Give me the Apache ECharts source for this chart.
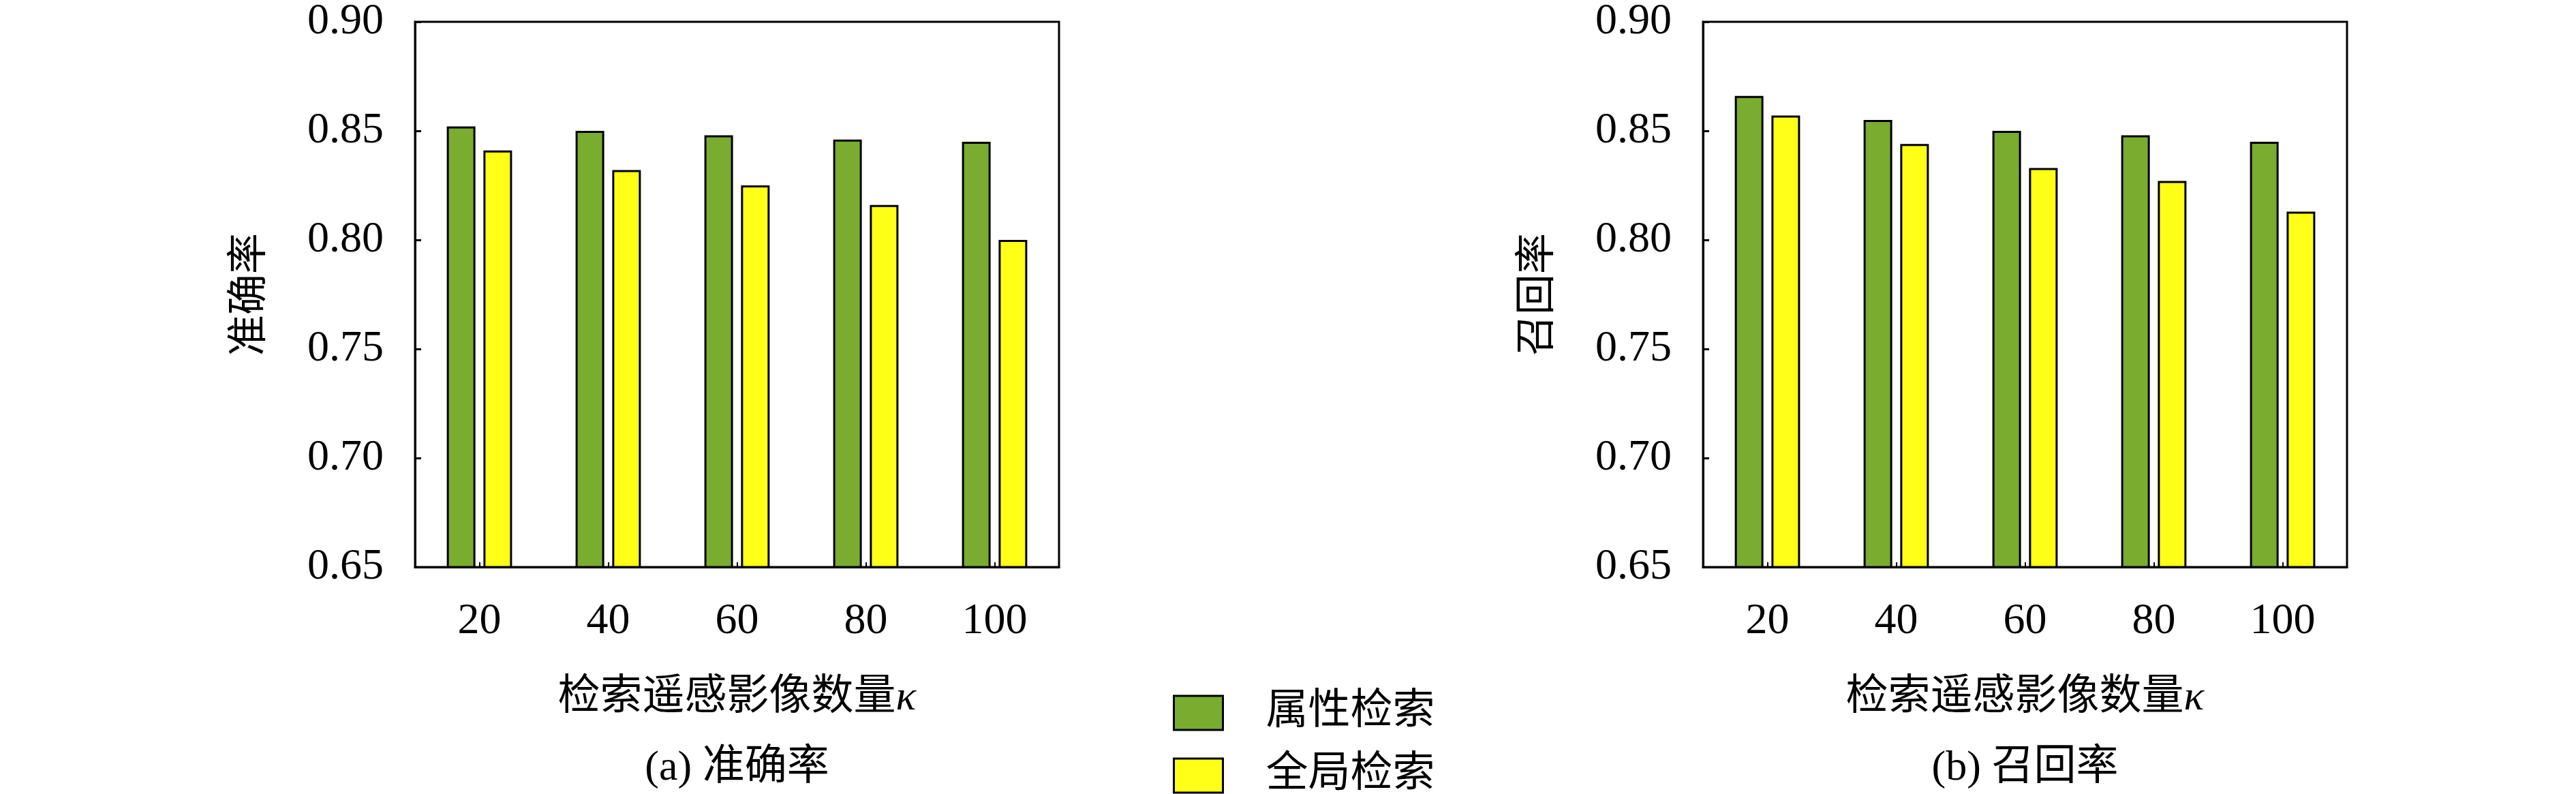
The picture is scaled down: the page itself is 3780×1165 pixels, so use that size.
<!DOCTYPE html>
<html>
<head>
<meta charset="utf-8">
<script src="https://cdn.jsdelivr.net/npm/echarts@6/dist/echarts.min.js"></script>
<style>
html,body{margin:0;padding:0;background:#fff;}
#chart{width:3780px;height:1165px;}
</style>
</head>
<body>
<div id="chart"></div>
<script>
var categories = ['20', '40', '60', '80', '100'];
var seriesNames = ['属性检索', '全局检索'];
var precisionAttr = [0.852, 0.850, 0.848, 0.846, 0.845];
var precisionGlobal = [0.841, 0.832, 0.825, 0.816, 0.800];
var recallAttr = [0.866, 0.855, 0.850, 0.848, 0.845];
var recallGlobal = [0.857, 0.844, 0.833, 0.827, 0.813];
var yTicks = { min: 0.65, max: 0.90, interval: 0.05 };
var yNames = ['准确率', '召回率'];
var xName = '检索遥感影像数量{k|κ}';
var captions = ['(a) 准确率', '(b) 召回率'];

var FONT = "'Liberation Serif', 'Noto Sans CJK SC', serif";
var GREEN = '#79AC2F';
var YELLOW = '#FFFF17';

var chart = echarts.init(document.getElementById('chart'), null, { renderer: 'canvas' });

var gridLefts = [609, 2499];
var gridW = 945;

function makeX(i) {
  return {
    type: 'category', gridIndex: i, data: categories,
    axisLine: { show: true, lineStyle: { color: '#000', width: 3 } },
    axisTick: { show: true, inside: true, alignWithLabel: true, length: 7, lineStyle: { color: '#000', width: 2 } },
    axisLabel: { color: '#000', fontFamily: FONT, fontSize: 64, margin: 48 },
    name: xName, nameLocation: 'middle', nameGap: 162,
    nameTextStyle: { color: '#000', fontFamily: FONT, fontSize: 62, rich: { k: { fontStyle: 'italic', fontFamily: FONT, fontSize: 62 } } }
  };
}
function makeY(i) {
  return {
    type: 'value', gridIndex: i, min: yTicks.min, max: yTicks.max, interval: yTicks.interval,
    axisLine: { show: true, lineStyle: { color: '#000', width: 3 } },
    axisTick: { show: true, inside: true, length: 9, lineStyle: { color: '#000', width: 3 } },
    splitLine: { show: false },
    axisLabel: { color: '#000', fontFamily: FONT, fontSize: 64, margin: 46, formatter: function (v) { return v.toFixed(2); } },
    name: yNames[i], nameLocation: 'middle', nameRotate: 90, nameGap: 211,
    nameTextStyle: { color: '#000', fontFamily: FONT, fontSize: 60 }
  };
}
function makeBar(name, data, i, color) {
  return {
    name: name, type: 'bar', xAxisIndex: i, yAxisIndex: i, data: data,
    barWidth: 42, barGap: '28%',
    itemStyle: { color: color, borderColor: '#000', borderWidth: 3 },
    emphasis: { disabled: true }
  };
}
function makeLegend(name, top) {
  return {
    orient: 'vertical', left: 1716, top: top,
    icon: 'rect', itemWidth: 72, itemHeight: 50,
    data: [name],
    textStyle: { color: '#000', fontFamily: FONT, fontSize: 62, lineHeight: 62, padding: [0, 0, 0, 58] },
    itemStyle: { borderColor: '#000', borderWidth: 3 }
  };
}

var option = {
  animation: false,
  backgroundColor: '#fff',
  grid: [
    { left: gridLefts[0], top: 31, width: gridW, height: 801, show: true, borderColor: '#000', borderWidth: 3, backgroundColor: 'transparent' },
    { left: gridLefts[1], top: 31, width: gridW, height: 801, show: true, borderColor: '#000', borderWidth: 3, backgroundColor: 'transparent' }
  ],
  xAxis: [makeX(0), makeX(1)],
  yAxis: [makeY(0), makeY(1)],
  legend: [makeLegend(seriesNames[0], 1010), makeLegend(seriesNames[1], 1102)],
  series: [
    makeBar(seriesNames[0], precisionAttr, 0, GREEN),
    makeBar(seriesNames[1], precisionGlobal, 0, YELLOW),
    makeBar(seriesNames[0], recallAttr, 1, GREEN),
    makeBar(seriesNames[1], recallGlobal, 1, YELLOW)
  ],
  graphic: captions.map(function (c, i) {
    return {
      type: 'text', x: gridLefts[i] + gridW / 2, y: 1128,
      style: { text: c, fill: '#000', font: '62px ' + FONT, textAlign: 'center', textVerticalAlign: 'middle' }
    };
  })
};
chart.setOption(option);
</script>
</body>
</html>
